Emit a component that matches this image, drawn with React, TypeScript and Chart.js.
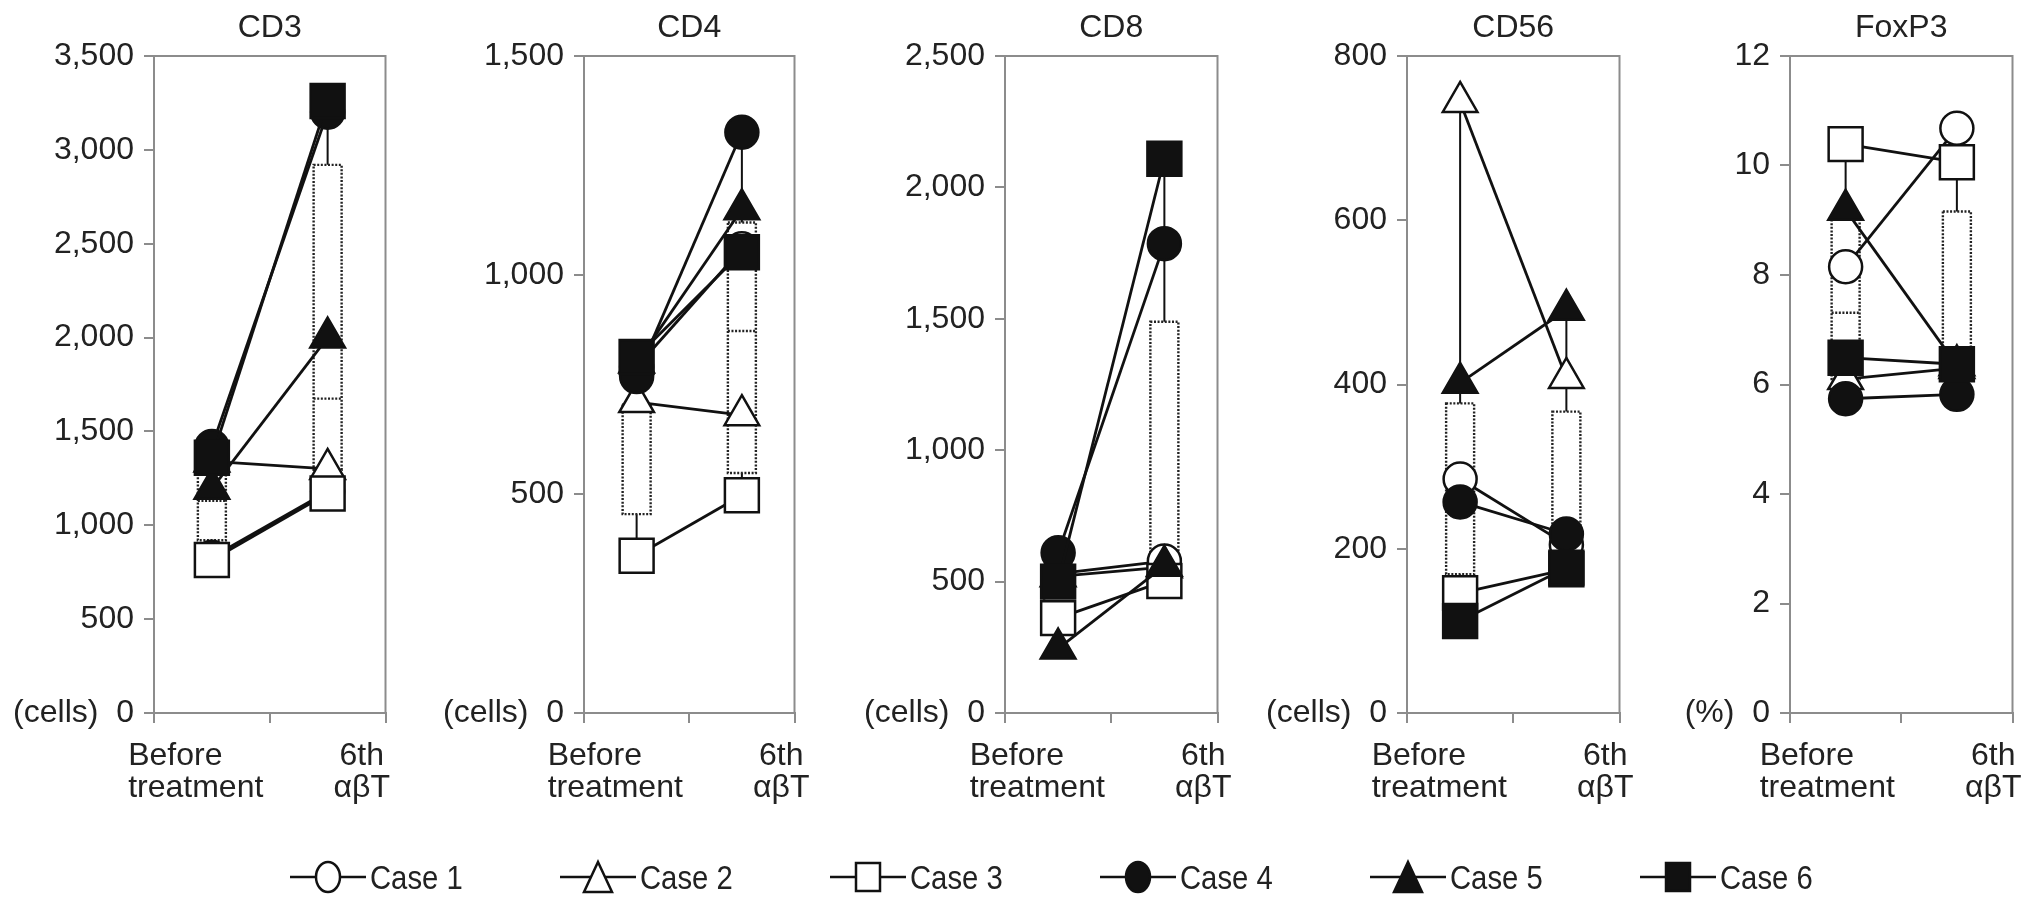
import React, { useEffect, useRef } from 'react';
import { Chart, registerables } from 'chart.js';

Chart.register(...registerables);

const FONT = '"Liberation Sans", Arial, Helvetica, sans-serif';
const AXIS_GRAY = '#8c8c8c';
const INK = '#111111';

// ---- data ----
const categories = [['Before', 'treatment'], ['6th', 'αβT']];
const caseNames = ['Case 1', 'Case 2', 'Case 3', 'Case 4', 'Case 5', 'Case 6'];
const caseMarkers = ['circle', 'triangle', 'rect', 'circle', 'triangle', 'rect'];
const caseFills = ['#ffffff', '#ffffff', '#ffffff', INK, INK, INK];

const panelTitles = ['CD3', 'CD4', 'CD8', 'CD56', 'FoxP3'];
const panelUnits = ['(cells)', '(cells)', '(cells)', '(cells)', '(%)'];
const axisMax = [3500, 1500, 2500, 800, 12];
const axisStep = [500, 500, 500, 200, 2];

// per case: [before, 6th]
const cd3Values = [[830, 1180], [1340, 1300], [815, 1169], [1420, 3200], [1195, 2000], [1360, 3260]];
const cd4Values = [[790, 1060], [710, 680], [359, 497], [768, 1326], [800, 1150], [813, 1052]];
const cd8Values = [[530, 578], [520, 555], [361, 502], [610, 1786], [245, 560], [500, 2109]];
const cd56Values = [[285, 205], [744, 408], [146, 175], [257, 218], [402, 491], [112, 177]];
const foxp3Values = [[8.15, 10.68], [6.1, 6.3], [10.39, 10.06], [5.74, 5.82], [9.19, 6.35], [6.49, 6.37]];

// per category: [min, q1, median, q3, max]
const cd3Boxes = [[815, 920, 1130, 1275, 1420], [1169, 1295, 1675, 2920, 3260]];
const cd4Boxes = [[359, 454, 705, 705, 813], [497, 548, 872, 1120, 1326]];
const cd8Boxes = [[245, 370, 480, 540, 610], [502, 560, 600, 1489, 2109]];
const cd56Boxes = [[112, 169, 260, 377, 744], [177, 190, 215, 367, 491]];
const foxp3Boxes = [[5.74, 6.1, 7.31, 9.04, 10.39], [5.82, 6.2, 6.4, 9.16, 10.06]];

const panelValues = [cd3Values, cd4Values, cd8Values, cd56Values, foxp3Values];
const panelBoxes = [cd3Boxes, cd4Boxes, cd8Boxes, cd56Boxes, foxp3Boxes];

// ---- layout ----
const PAGE_W = 2032;
const PAGE_H = 905;
const AXIS_SPACE = 150;
const RIGHT_SPACE = 26;
const PLOT_TOP = 56;
const PLOT_BOTTOM = 713;
const panelLeft = [154, 584, 1005, 1407, 1790];
const panelWidth = [232, 211, 213, 213, 223];

const markerRadius: Record<string, number> = { circle: 16.5, triangle: 20, rect: 24 };

const panelDecor = {
  id: 'panelDecor',
  beforeDatasetsDraw(chart: any, _args: any, opts: any) {
    const { ctx, scales } = chart;
    const xs = scales.x;
    const ys = scales.y;
    ctx.save();
    (opts.boxes || []).forEach((b: number[], i: number) => {
      const cx = xs.getPixelForValue(i);
      const [mn, q1, md, q3, mx] = b.map((v) => ys.getPixelForValue(v));
      const hw = 14;
      ctx.setLineDash([]);
      ctx.strokeStyle = INK;
      ctx.lineWidth = 2;
      ctx.beginPath();
      ctx.moveTo(cx, q3);
      ctx.lineTo(cx, mx);
      ctx.moveTo(cx, q1);
      ctx.lineTo(cx, mn);
      ctx.stroke();
      ctx.setLineDash([2, 1.6]);
      ctx.lineWidth = 2.4;
      ctx.strokeStyle = '#222222';
      ctx.strokeRect(cx - hw, q3, hw * 2, q1 - q3);
      ctx.beginPath();
      ctx.moveTo(cx - hw, md);
      ctx.lineTo(cx + hw, md);
      ctx.stroke();
    });
    ctx.restore();
  },
  afterDraw(chart: any, _args: any, opts: any) {
    const { ctx, chartArea: a } = chart;
    ctx.save();
    ctx.setLineDash([]);
    ctx.strokeStyle = AXIS_GRAY;
    ctx.lineWidth = 2;
    ctx.strokeRect(a.left, a.top, a.right - a.left, a.bottom - a.top);

    const mid = (a.left + a.right) / 2;
    ctx.fillStyle = '#222222';
    ctx.font = `32px ${FONT}`;
    ctx.textBaseline = 'alphabetic';
    ctx.textAlign = 'center';
    ctx.fillText(opts.title, mid, 37);

    const labels = chart.data.labels as string[][];
    const firstCenter = mid - 74;
    const widest = Math.max(...labels[0].map((t) => ctx.measureText(t).width));
    ctx.textAlign = 'left';
    labels[0].forEach((line, k) => ctx.fillText(line, firstCenter - widest / 2, 765 + k * 32));
    ctx.textAlign = 'center';
    labels[1].forEach((line, k) => ctx.fillText(line, mid + 92, 765 + k * 32));
    ctx.restore();
  },
};

const Panel: React.FC<{ index: number }> = ({ index }) => {
  const canvasRef = useRef<HTMLCanvasElement | null>(null);
  const width = AXIS_SPACE + panelWidth[index] + RIGHT_SPACE;

  useEffect(() => {
    if (!canvasRef.current) return;
    const ctx = canvasRef.current.getContext('2d');
    if (!ctx) return;

    const values = panelValues[index];
    const chart = new Chart(ctx, {
      type: 'line',
      data: {
        labels: categories,
        datasets: values.map((v, c) => ({
          label: caseNames[c],
          data: v,
          order: caseNames.length - 1 - c,
          borderColor: INK,
          borderWidth: 2.8,
          tension: 0,
          clip: false,
          pointStyle: caseMarkers[c],
          pointRadius: markerRadius[caseMarkers[c]],
          pointHoverRadius: markerRadius[caseMarkers[c]],
          pointBackgroundColor: caseFills[c],
          pointBorderColor: INK,
          pointBorderWidth: 2.5,
        })),
      },
      options: {
        responsive: false,
        maintainAspectRatio: false,
        animation: false,
        events: [],
        layout: {
          padding: { left: 0, right: RIGHT_SPACE, top: PLOT_TOP, bottom: PAGE_H - PLOT_BOTTOM - 10 },
        },
        plugins: {
          legend: { display: false },
          title: { display: false },
          tooltip: { enabled: false },
          panelDecor: { boxes: panelBoxes[index], title: panelTitles[index] },
        } as any,
        scales: {
          x: {
            type: 'category',
            offset: true,
            afterFit: (s: any) => { s.height = 10; },
            grid: {
              offset: true,
              drawOnChartArea: false,
              drawTicks: true,
              tickLength: 10,
              tickColor: AXIS_GRAY,
              lineWidth: 2,
            },
            border: { color: AXIS_GRAY, width: 2 },
            ticks: { display: false },
          },
          y: {
            min: 0,
            max: axisMax[index],
            afterFit: (s: any) => { s.width = AXIS_SPACE; },
            grid: {
              drawOnChartArea: false,
              drawTicks: true,
              tickLength: 10,
              tickColor: AXIS_GRAY,
              lineWidth: 2,
            },
            border: { color: AXIS_GRAY, width: 2 },
            ticks: {
              stepSize: axisStep[index],
              padding: 10,
              color: '#222222',
              font: { family: FONT, size: 32 },
              callback: (v: any) =>
                Number(v) === 0 ? `${panelUnits[index]}  0` : Number(v).toLocaleString('en-US'),
            },
          },
        },
      },
      plugins: [panelDecor],
    });

    return () => {
      chart.destroy();
    };
  }, [index]);

  return (
    <canvas
      ref={canvasRef}
      width={width}
      height={PAGE_H}
      style={{ position: 'absolute', left: panelLeft[index] - AXIS_SPACE, top: 0, width, height: PAGE_H }}
    />
  );
};

const LegendIcon: React.FC<{ marker: string; fill: string }> = ({ marker, fill }) => (
  <svg width={78} height={40} style={{ position: 'absolute', left: 0, top: 0 }}>
    <line x1={0} y1={20} x2={76} y2={20} stroke={INK} strokeWidth={2.5} />
    {marker === 'circle' && <ellipse cx={38} cy={20} rx={12} ry={15} fill={fill} stroke={INK} strokeWidth={2.5} />}
    {marker === 'triangle' && (
      <polygon points="38,5 52,35 24,35" fill={fill} stroke={INK} strokeWidth={2.5} />
    )}
    {marker === 'rect' && <rect x={26} y={6} width={24} height={28} fill={fill} stroke={INK} strokeWidth={2.5} />}
  </svg>
);

const App: React.FC = () => (
  <div style={{ position: 'absolute', left: 0, top: 0, width: PAGE_W, height: PAGE_H, background: '#fff', overflow: 'hidden' }}>
    {panelTitles.map((_, i) => (
      <Panel key={i} index={i} />
    ))}
    {caseNames.map((name, c) => (
      <div key={name} style={{ position: 'absolute', left: 290 + c * 270, top: 857, height: 40, width: 260 }}>
        <LegendIcon marker={caseMarkers[c]} fill={caseFills[c]} />
        <span
          style={{
            position: 'absolute',
            left: 80,
            top: 0,
            lineHeight: '40px',
            fontFamily: FONT,
            fontSize: 34,
            color: '#222',
            whiteSpace: 'nowrap',
            transform: 'scaleX(0.86)',
            transformOrigin: 'left center',
          }}
        >
          {name}
        </span>
      </div>
    ))}
  </div>
);

export default App;
